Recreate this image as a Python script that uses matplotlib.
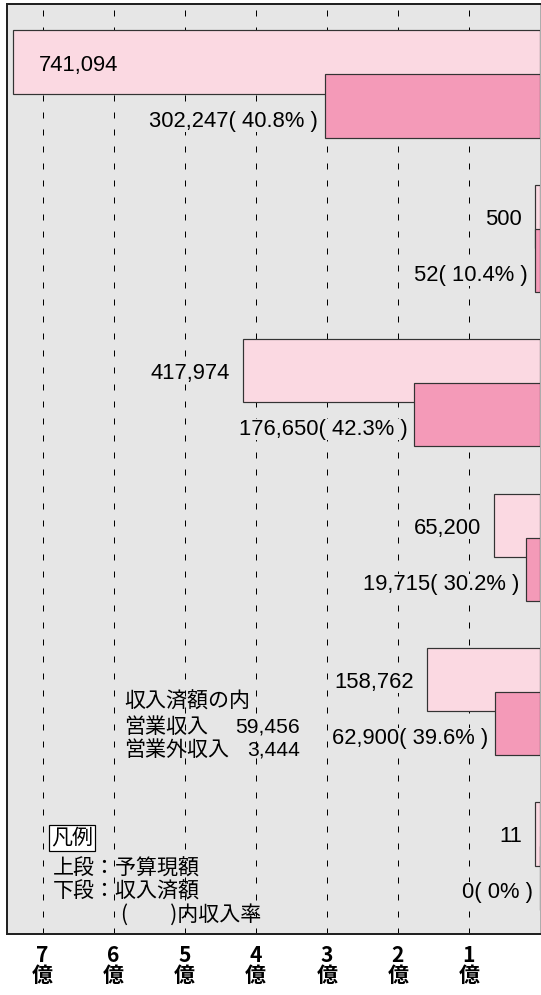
import matplotlib
matplotlib.use('Agg')
import matplotlib.pyplot as plt
import numpy as np

# 単位: 千円 (1億 = 100,000千円)
budget = [741094, 500, 417974, 65200, 158762, 11]      # 上段：予算現額
received = [302247, 52, 176650, 19715, 62900, 0]       # 下段：収入済額
rates = ['40.8%', '10.4%', '42.3%', '30.2%', '39.6%', '0%']
tick_values = [700000, 600000, 500000, 400000, 300000, 200000, 100000]
tick_labels = ['7\n億', '6\n億', '5\n億', '4\n億', '3\n億', '2\n億', '1\n億']
note_lines = ['収入済額の内', '営業収入', '営業外収入']
note_values = [59456, 3444]

W, H, DPI = 541, 995, 72
fig = plt.figure(figsize=(W / DPI, H / DPI), dpi=DPI)
fig.patch.set_facecolor('white')


def px(x, y):
    # pixel position (from top-left) -> figure fraction
    return x / W, 1 - y / H


bg = '#e6e6e6'
ax = fig.add_axes([7 / W, 1 - 934 / H, 533 / W, 930 / H])
ax.set_facecolor(bg)

num_font = 'Liberation Sans'
jp_font = ['Noto Sans CJK JP', 'DejaVu Sans']

y = np.arange(len(budget))
bar_h = 0.41
shift = 0.285

# very small amounts get a minimum visible width (as in the original chart)
min_w = 7000
b_draw = np.where(np.array(budget) > 0, np.maximum(budget, min_w), 0)
r_draw = np.where(np.array(received) > 0, np.maximum(received, min_w), 0)

ax.barh(y, b_draw, height=bar_h, color='#fbd9e2', edgecolor='#333333', linewidth=1.2, zorder=3)
ax.barh(y + shift, r_draw, height=bar_h, color='#f49ab8', edgecolor='#333333', linewidth=1.2, zorder=4)

ax.set_xlim(750000, 0)
ax.set_ylim(5.648, -0.376)

for xv in tick_values:
    ax.axvline(xv, color='black', linewidth=1, linestyle=(0, (6, 11)), zorder=1)

ax.set_xticks(tick_values)
ax.set_xticklabels(tick_labels, family=jp_font, fontsize=21, weight='bold', linespacing=0.95)
ax.tick_params(axis='x', length=0, pad=11)
ax.set_yticks([])

for s in ['left', 'bottom', 'top']:
    ax.spines[s].set_linewidth(2)
    ax.spines[s].set_color('#222222')
ax.spines['right'].set_color('#999999')

label_bg = dict(boxstyle='square,pad=0', facecolor=bg, edgecolor='none')

# value labels
for i, (b, bd, r, rd, rt) in enumerate(zip(budget, b_draw, received, r_draw, rates)):
    if b > 650000:
        ax.annotate(f'{b:,}', (bd, i), xytext=(26, -3), textcoords='offset points',
                    ha='left', va='center', fontsize=22, family=num_font, zorder=5)
    else:
        ax.annotate(f'{b:,}', (bd, i), xytext=(-13, -3), textcoords='offset points',
                    ha='right', va='center', fontsize=22, family=num_font, zorder=5,
                    bbox=label_bg)
    ax.annotate(f'{r:,}( {rt} )', (rd, i + shift), xytext=(-7, -15), textcoords='offset points',
                ha='right', va='center', fontsize=22, family=num_font, zorder=5, bbox=label_bg)

# 収入済額の内訳
fig.text(*px(124, 702), note_lines[0], family=jp_font, fontsize=21, va='center', ha='left')
fig.text(*px(124, 727), note_lines[1], family=jp_font, fontsize=21, va='center', ha='left')
fig.text(*px(124, 750), note_lines[2], family=jp_font, fontsize=21, va='center', ha='left')
fig.text(*px(300, 727), f'{note_values[0]:,}', family=num_font, fontsize=21, va='center', ha='right')
fig.text(*px(300, 750), f'{note_values[1]:,}', family=num_font, fontsize=21, va='center', ha='right')

# 凡例
fig.text(*px(72, 838), '凡例', family=jp_font, fontsize=21, va='center', ha='center',
         bbox=dict(boxstyle='square,pad=0.1', facecolor='white', edgecolor='black', linewidth=1.2))
fig.text(*px(53, 869), '上段：予算現額', family=jp_font, fontsize=21, va='center', ha='left')
fig.text(*px(53, 892), '下段：収入済額', family=jp_font, fontsize=21, va='center', ha='left')
fig.text(*px(121, 915), '(　　)内収入率', family=jp_font, fontsize=21, va='center', ha='left')

fig.savefig('out.png', dpi=DPI)
